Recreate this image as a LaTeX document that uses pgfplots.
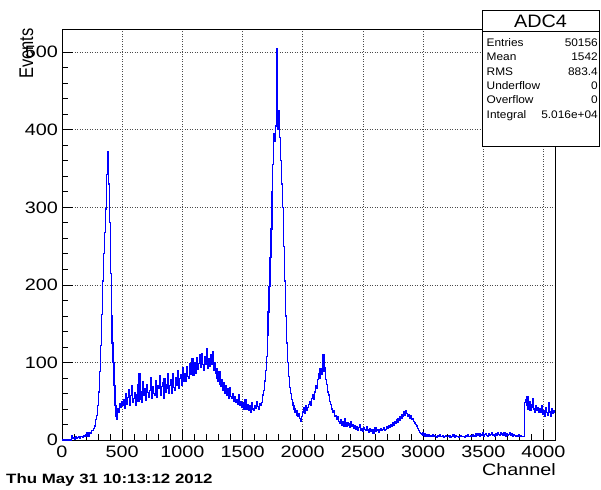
\documentclass[border=0pt]{standalone}
\usepackage{fontspec}
\setmainfont{Liberation Sans}
\usepackage{graphicx}
\usepackage{pgfplots}
\pgfplotsset{compat=1.18}
\newcommand\hs[2][1.2]{\scalebox{#1}[1]{#2}}
\newcommand\tickfont{\fontsize{16.5}{19}\selectfont}
\begin{document}
\begin{tikzpicture}
\path[use as bounding box] (0pt,0pt) rectangle (601pt,489pt);
\begin{axis}[
  at={(62pt,49pt)}, anchor=south west,
  scale only axis, width=493pt, height=411pt,
  xmin=0, xmax=4096, ymin=0, ymax=530,
  xtick={0,500,...,4000}, ytick={0,100,...,500},
  minor x tick num=4, minor y tick num=4,
  tick align=inside, xtick pos=bottom, ytick pos=left,
  major tick length=11pt, minor tick length=6pt,
  grid=major,
  major grid style={black!70, line width=0.7pt, dash pattern=on 1pt off 1.5pt},
  axis line style={black, line width=0.8pt},
  every tick/.style={black, line width=0.8pt},
  scaled ticks=false,
  xticklabel={\hs{\pgfmathprintnumber[assume math mode=true,1000 sep={}]{\tick}}},
  yticklabel={\hs{\pgfmathprintnumber[assume math mode=true,1000 sep={}]{\tick}}},
  xticklabel style={font=\tickfont, anchor=north, inner sep=0pt, yshift=-6pt},
  yticklabel style={font=\tickfont, anchor=east, inner sep=0pt, xshift=-4pt},
]
\addplot[blue, line width=1.2pt, const plot, mark=none]
 table[row sep=\\, header=false, x expr=\coordindex*8, y index=0] {
0\\0\\0\\0\\0\\0\\0\\0\\0\\0\\6\\2\\3\\1\\4\\2\\
3\\4\\2\\5\\4\\3\\6\\4\\5\\7\\9\\5\\8\\10\\9\\12\\
12\\15\\18\\26\\32\\45\\62\\88\\122\\162\\205\\240\\268\\298\\342\\372\\
330\\280\\215\\160\\125\\100\\70\\45\\30\\27\\40\\36\\47\\42\\50\\45\\
52\\41\\60\\46\\55\\65\\44\\57\\70\\48\\53\\61\\45\\58\\72\\50\\
86\\52\\63\\48\\75\\57\\66\\51\\72\\61\\55\\64\\80\\54\\69\\60\\
58\\77\\55\\70\\66\\83\\57\\69\\74\\54\\79\\62\\66\\71\\85\\60\\
70\\78\\60\\86\\68\\64\\81\\70\\90\\67\\79\\84\\71\\93\\75\\86\\
76\\95\\82\\79\\98\\84\\92\\105\\83\\96\\100\\86\\106\\91\\99\\110\\
93\\112\\97\\90\\108\\98\\118\\92\\105\\95\\110\\97\\114\\90\\100\\86\\
92\\80\\76\\88\\72\\69\\78\\64\\74\\60\\70\\58\\66\\54\\67\\56\\
54\\60\\50\\56\\48\\52\\46\\58\\44\\50\\42\\48\\46\\40\\52\\44\\
40\\46\\38\\44\\36\\48\\40\\38\\45\\41\\50\\43\\39\\47\\44\\48\\
58\\64\\76\\90\\108\\135\\165\\198\\235\\272\\320\\355\\395\\385\\405\\505\\
400\\425\\390\\360\\330\\300\\250\\205\\160\\125\\100\\82\\68\\60\\52\\48\\
44\\40\\36\\38\\32\\30\\34\\28\\24\\30\\36\\42\\34\\45\\38\\42\\
46\\50\\44\\54\\58\\52\\62\\70\\66\\78\\86\\80\\92\\84\\90\\110\\
88\\94\\78\\72\\62\\58\\50\\46\\40\\36\\38\\30\\32\\27\\30\\24\\
22\\26\\19\\24\\18\\28\\20\\17\\23\\19\\21\\16\\24\\18\\20\\15\\
18\\14\\17\\12\\16\\20\\13\\15\\11\\16\\14\\12\\17\\13\\10\\15\\
11\\14\\12\\9\\13\\16\\11\\12\\14\\10\\13\\15\\12\\14\\16\\13\\
14\\17\\15\\18\\16\\20\\18\\22\\19\\24\\21\\26\\23\\28\\25\\30\\
28\\33\\30\\36\\32\\38\\34\\30\\33\\28\\31\\26\\28\\24\\22\\20\\
18\\15\\12\\10\\8\\7\\9\\6\\8\\5\\7\\6\\4\\7\\5\\6\\
5\\7\\4\\6\\5\\3\\6\\4\\7\\5\\4\\6\\3\\5\\6\\4\\
5\\4\\6\\3\\5\\4\\7\\5\\3\\6\\4\\5\\3\\4\\6\\5\\
4\\5\\3\\6\\4\\7\\5\\4\\6\\5\\7\\4\\6\\5\\8\\6\\
6\\8\\5\\7\\6\\9\\5\\7\\8\\6\\5\\8\\6\\7\\9\\6\\
7\\5\\8\\6\\9\\7\\6\\10\\7\\8\\6\\9\\7\\5\\8\\6\\
7\\9\\6\\8\\5\\7\\6\\4\\6\\5\\7\\4\\6\\5\\4\\5\\
48\\52\\44\\56\\40\\50\\38\\46\\42\\54\\40\\36\\45\\38\\42\\35\\
40\\36\\44\\33\\38\\30\\42\\35\\32\\48\\36\\30\\40\\34\\38\\36\\
36\\
};
\end{axis}
% axis titles
\node[anchor=base east, inner sep=0pt, font=\tickfont] at (556pt,14pt) {\hs{Channel}};
\node[anchor=base east, rotate=90, inner sep=0pt, font=\tickfont] at (33pt,461pt) {\scalebox{1}[1.2]{Events}};
% date stamp
\node[anchor=base west, inner sep=0pt, font=\bfseries\fontsize{13.5}{15}\selectfont] at (6pt,6pt) {\hs[1.25]{Thu May 31 10:13:12 2012}};
% stats box
\draw[fill=white, line width=0.8pt] (482pt,343pt) rectangle (599.5pt,479pt);
\draw[line width=0.8pt] (482pt,457.3pt) -- (599.5pt,457.3pt);
\node[anchor=base, inner sep=0pt, font=\fontsize{18}{20}\selectfont] at (540.5pt,461pt) {\hs[1.1]{ADC4}};
\begin{scope}[every node/.style={inner sep=0pt, font=\fontsize{11}{13}\selectfont}]
\node[anchor=base west] at (486.5pt,442.3pt) {\hs[1.08]{Entries}};
\node[anchor=base east] at (598pt,442.3pt) {\hs[1.08]{50156}};
\node[anchor=base west] at (486.5pt,428pt) {\hs[1.08]{Mean}};
\node[anchor=base east] at (598pt,428pt) {\hs[1.08]{1542}};
\node[anchor=base west] at (486.5pt,413.7pt) {\hs[1.08]{RMS}};
\node[anchor=base east] at (598pt,413.7pt) {\hs[1.08]{883.4}};
\node[anchor=base west] at (486.5pt,399.4pt) {\hs[1.08]{Underflow}};
\node[anchor=base east] at (598pt,399.4pt) {\hs[1.08]{0}};
\node[anchor=base west] at (486.5pt,385pt) {\hs[1.08]{Overflow}};
\node[anchor=base east] at (598pt,385pt) {\hs[1.08]{0}};
\node[anchor=base west] at (486.5pt,370.7pt) {\hs[1.08]{Integral}};
\node[anchor=base east] at (598pt,370.7pt) {\hs[1.08]{5.016e+04}};
\end{scope}
\end{tikzpicture}
\end{document}
